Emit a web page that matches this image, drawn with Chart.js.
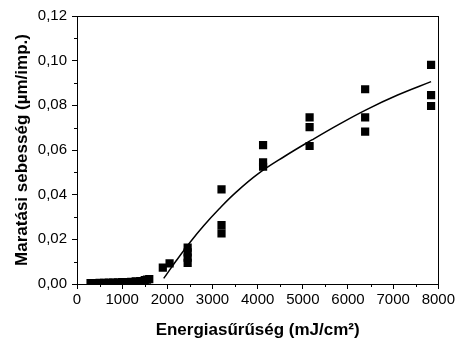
<!DOCTYPE html>
<html>
<head>
<meta charset="utf-8">
<script src="https://cdn.jsdelivr.net/npm/chart.js@4/dist/chart.umd.min.js"></script>
<style>
  html, body { margin: 0; padding: 0; background: #fff; }
  #wrap { width: 457px; height: 341px; }
</style>
</head>
<body>
<div id="wrap"><canvas id="c" width="457" height="341"></canvas></div>
<script>
// Measured data (energy density mJ/cm², etch rate µm/pulse)
const pointX = [300, 400, 500, 600, 700, 800, 900, 1000, 1100, 1200, 1300, 1400, 1500, 1550, 1600,
                1900, 2050,
                2450, 2450, 2450, 2450,
                3200, 3200, 3200,
                4120, 4120, 4120,
                5150, 5150, 5150,
                6380, 6380, 6380,
                7840, 7840, 7840];
const pointY = [0.0004, 0.0004, 0.0005, 0.0005, 0.0006, 0.0006, 0.0007, 0.0008, 0.0009, 0.0010, 0.0012, 0.0013, 0.0018, 0.0020, 0.0022,
                0.0073, 0.0092,
                0.0163, 0.0142, 0.0118, 0.0095,
                0.0424, 0.0264, 0.0227,
                0.0622, 0.0545, 0.0525,
                0.0746, 0.0702, 0.0618,
                0.0872, 0.0746, 0.0682,
                0.0981, 0.0846, 0.0797];
// Fitted curve
const fitX = [1920, 2200, 2500, 2800, 3150, 3500, 4000, 4600, 5200, 5800, 6400, 7100, 7840];
const fitY = [0.0025, 0.0105, 0.0186, 0.0260, 0.0337, 0.0407, 0.0492, 0.0572, 0.0645, 0.0715, 0.0780, 0.0846, 0.0906];
// Axis ticks
const xTicks = [0, 1000, 2000, 3000, 4000, 5000, 6000, 7000, 8000];
const yTicks = [0, 0.02, 0.04, 0.06, 0.08, 0.10, 0.12];
const xTitle = 'Energiasűrűség (mJ/cm²)';
const yTitle = 'Maratási sebesség (µm/imp.)';

const FONT = "'Liberation Sans', Arial, sans-serif";

const points = pointX.map((x, i) => ({ x, y: pointY[i] }));
const fit = fitX.map((x, i) => ({ x, y: fitY[i] }));

const frameAndMinor = {
  id: 'frameAndMinor',
  afterDraw(chart) {
    const ctx = chart.ctx;
    const a = chart.chartArea;
    const xs = chart.scales.x, ys = chart.scales.y;
    ctx.save();
    ctx.strokeStyle = '#000';
    ctx.lineWidth = 1;
    ctx.strokeRect(Math.round(a.left) + 0.5, Math.round(a.top) + 0.5,
                   Math.round(a.right - a.left), Math.round(a.bottom - a.top));
    ctx.beginPath();
    for (let i = 0; i < xTicks.length - 1; i++) {
      const v = (xTicks[i] + xTicks[i + 1]) / 2;
      const px = Math.round(xs.getPixelForValue(v)) + 0.5;
      ctx.moveTo(px, a.bottom);
      ctx.lineTo(px, a.bottom + 3);
    }
    for (let i = 0; i < yTicks.length - 1; i++) {
      const v = (yTicks[i] + yTicks[i + 1]) / 2;
      const py = Math.round(ys.getPixelForValue(v)) + 0.5;
      ctx.moveTo(a.left, py);
      ctx.lineTo(a.left - 3, py);
    }
    ctx.stroke();
    ctx.restore();
  }
};

new Chart(document.getElementById('c'), {
  type: 'scatter',
  data: {
    datasets: [
      {
        data: fit,
        showLine: true,
        borderColor: '#000',
        borderWidth: 1.5,
        pointRadius: 0,
        tension: 0.4,
        fill: false,
        order: 2
      },
      {
        data: points,
        pointStyle: 'rect',
        pointRadius: 5.8,
        backgroundColor: '#000',
        borderColor: '#000',
        borderWidth: 0,
        order: 1
      }
    ]
  },
  options: {
    responsive: false,
    animation: false,
    devicePixelRatio: 1,
    layout: { padding: { left: 0, top: 16, right: 17, bottom: 0 } },
    plugins: { legend: { display: false }, tooltip: { enabled: false } },
    scales: {
      x: {
        type: 'linear',
        min: 0, max: 8000,
        afterFit(s) { s.height = 57; },
        afterBuildTicks(s) { s.ticks = xTicks.map(v => ({ value: v })); },
        ticks: {
          color: '#000',
          font: { family: FONT, size: 15 },
          padding: 2,
          maxRotation: 0,
          callback: v => String(v)
        },
        grid: { drawOnChartArea: false, tickLength: 5, color: '#000', tickWidth: 1 },
        border: { color: '#000', width: 1 },
        title: {
          display: true,
          text: xTitle,
          color: '#000',
          font: { family: FONT, size: 17, weight: 'bold' },
          padding: { top: 0, bottom: 0 }
        }
      },
      y: {
        type: 'linear',
        min: 0, max: 0.12,
        afterFit(s) { s.width = 77; },
        afterBuildTicks(s) { s.ticks = yTicks.map(v => ({ value: v })); },
        ticks: {
          color: '#000',
          font: { family: FONT, size: 15 },
          padding: 5,
          callback: v => v.toFixed(2).replace('.', ',')
        },
        grid: { drawOnChartArea: false, tickLength: 5, color: '#000', tickWidth: 1 },
        border: { color: '#000', width: 1 },
        title: {
          display: true,
          text: yTitle,
          color: '#000',
          font: { family: FONT, size: 17, weight: 'bold' },
          padding: { top: 12, bottom: 0 }
        }
      }
    }
  },
  plugins: [frameAndMinor]
});
</script>
</body>
</html>
